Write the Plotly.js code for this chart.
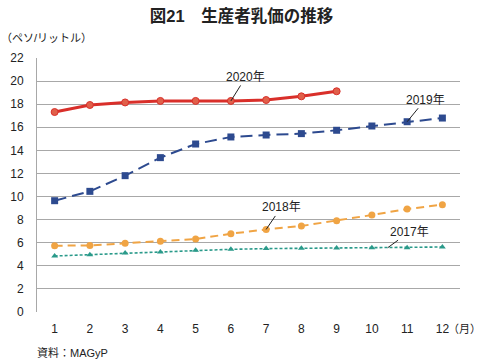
<!DOCTYPE html>
<html><head><meta charset="utf-8">
<script src="https://cdn.plot.ly/plotly-3.0.1.min.js"></script>
<style>html,body{margin:0;padding:0;background:#fff}#c{width:483px;height:360px}</style>
</head><body><div id="c"></div>
<script>
const months = [1,2,3,4,5,6,7,8,9,10,11,12];
const v2017 = [4.85,4.96,5.11,5.20,5.34,5.43,5.49,5.52,5.54,5.57,5.57,5.63];
const v2018 = [5.74,5.77,5.95,6.12,6.32,6.78,7.15,7.45,7.91,8.40,8.92,9.30];
const v2019 = [9.64,10.45,11.81,13.37,14.55,15.16,15.33,15.45,15.74,16.11,16.48,16.80];
const v2020 = [17.32,17.93,18.15,18.28,18.28,18.28,18.36,18.68,19.12];
const yTicks = [0,2,4,6,8,10,12,14,16,18,20,22];
const font = "Liberation Sans, Noto Sans CJK JP, sans-serif";

const traces = [
  {x: months, y: v2017, mode:'lines+markers', name:'2017年',
   line:{color:'#2a9a8a', width:1.6, dash:'3px,2px'}, marker:{symbol:'triangle-up', size:6, color:'#2a9a8a'}},
  {x: months, y: v2018, mode:'lines+markers', name:'2018年',
   line:{color:'#f0a444', width:2, dash:'8px,5px'}, marker:{symbol:'circle', size:7, color:'#f0a444'}},
  {x: months, y: v2019, mode:'lines+markers', name:'2019年',
   line:{color:'#2d4a8f', width:2, dash:'12px,6px'}, marker:{symbol:'square', size:7, color:'#2d4a8f'}},
  {x: months.slice(0, v2020.length), y: v2020, mode:'lines+markers', name:'2020年',
   line:{color:'#d92f2a', width:3}, marker:{symbol:'circle', size:7, color:'#e0604a', line:{color:'#d92f2a', width:1}}}
];

function ann(text, ax, ay, x, y) {
  return {x:x, y:y, xref:'x', yref:'y', text:text, showarrow:true, arrowhead:0, arrowwidth:1, arrowcolor:'#222',
          ax:ax, ay:ay, axref:'pixel', ayref:'pixel', font:{family:font, size:12, color:'#222'}, standoff:0, startstandoff:0};
}

const layout = {
  width:483, height:360,
  margin:{l:37, r:23, t:58, b:48},
  paper_bgcolor:'#fff', plot_bgcolor:'#fff',
  showlegend:false,
  title:{text:'<b>図21　生産者乳価の推移</b>', x:0.5, xanchor:'center', y:0.955, yanchor:'middle',
         font:{family:font, size:16.5, color:'#222'}},
  xaxis:{range:[0.5,12.5], tickvals:months, ticktext:months.map(String), showgrid:false, zeroline:false,
         showline:false, ticks:'', ticklabelstandoff:8, tickfont:{family:font, size:12, color:'#222'}},
  yaxis:{range:[0,22], tickvals:yTicks, ticktext:yTicks.map(String), showgrid:true, gridcolor:'#a8a8a8', gridwidth:1,
         zeroline:false, showline:true, linecolor:'#a8a8a8', ticks:'', ticklabelstandoff:10,
         tickfont:{family:font, size:12, color:'#222'}},
  annotations:[
    ann('2020年', 15, -24, 6, 18.28),
    ann('2019年', 18, -22, 11, 16.48),
    ann('2018年', 15, -22, 7, 7.15),
    ann('2017年', 22, -16, 10.45, 5.57),
    {xref:'paper', yref:'paper', x:-0.09, y:1.08, xanchor:'left', yanchor:'middle', showarrow:false,
     text:'（ペソ/リットル）', font:{family:font, size:11, color:'#222'}},
    {xref:'paper', yref:'paper', x:1.0545, y:-0.066, xanchor:'right', yanchor:'middle', showarrow:false,
     text:'（月）', font:{family:font, size:11, color:'#222'}},
    {xref:'paper', yref:'paper', x:-0.005, y:-0.16, xanchor:'left', yanchor:'middle', showarrow:false,
     text:'資料：MAGyP', font:{family:font, size:11, color:'#222'}}
  ]
};
Plotly.newPlot('c', traces, layout, {displayModeBar:false, staticPlot:true});
</script></body></html>
